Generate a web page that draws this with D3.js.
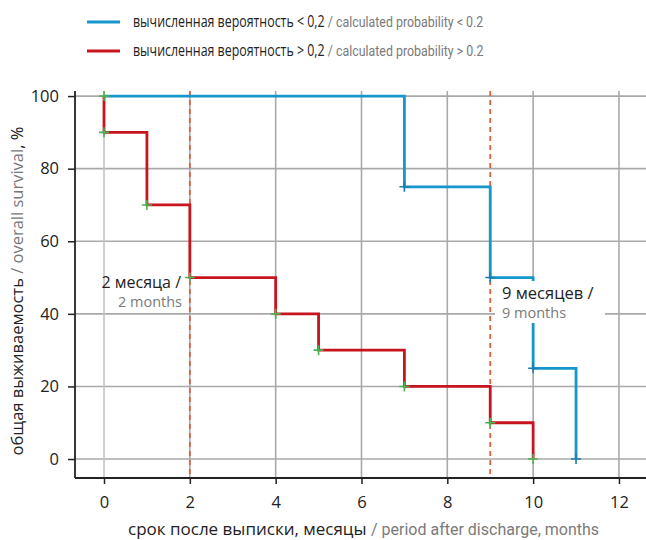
<!DOCTYPE html>
<html>
<head>
<meta charset="utf-8">
<script src="https://cdn.jsdelivr.net/npm/d3@7"></script>
<style>
  body { margin: 0; background: #fff; }
  text { font-family: "Open Sans", "Noto Sans", sans-serif; }
  .en { font-family: "Roboto", sans-serif; fill: #7a7a7a; }
</style>
</head>
<body>
<div id="chart"></div>
<script>
// данные
var xTicks = [0, 2, 4, 6, 8, 10, 12]
var yTicks = [0, 20, 40, 60, 80, 100]
// вероятность < 0,2
var lowTimes = [0, 7, 9, 10, 11]
var lowValues = [100, 75, 50, 25, 0]
var lowCensor = [[7, 75], [9, 50], [10, 25], [11, 0]]
// вероятность > 0,2
var highTimes = [0, 0, 1, 2, 4, 5, 7, 9, 10]
var highValues = [100, 90, 70, 50, 40, 30, 20, 10, 0]
var medians = [2, 9]

var width = 646, height = 540
var colorBlue = '#1596cc', colorRed = '#c8141e', colorGreen = '#4db251', colorDash = '#e0603c', colorGrid = '#a9a9a9'

var svg = d3.select('#chart').append('svg').attr('width', width).attr('height', height)

var x = d3.scaleLinear().domain([-0.676, 12.63]).range([75, 646])
var y = d3.scaleLinear().domain([-5.23, 101.4]).range([478, 91])

// сетка
svg.append('g').selectAll('line').data(yTicks).enter().append('line')
  .attr('x1', 75).attr('x2', width).attr('y1', d => y(d)).attr('y2', d => y(d))
  .attr('stroke', colorGrid).attr('stroke-width', 1.6)
svg.append('g').selectAll('line').data(xTicks).enter().append('line')
  .attr('x1', d => x(d)).attr('x2', d => x(d)).attr('y1', y(101.4)).attr('y2', 478)
  .attr('stroke', d => d === 0 ? '#c4c4c4' : colorGrid).attr('stroke-width', 1.6)

// оси
var yAxis = d3.axisLeft(y).tickValues(yTicks).tickSize(7).tickPadding(9)
var gy = svg.append('g').attr('transform', 'translate(75,0)').call(yAxis)
var xAxis = d3.axisBottom(x).tickValues(xTicks).tickSize(6).tickPadding(12)
var gx = svg.append('g').attr('transform', 'translate(0,478)').call(xAxis)
gy.select('.domain').attr('d', 'M0,' + y(101.4) + 'V478')
gx.select('.domain').attr('d', 'M75,0H' + width)
svg.selectAll('.domain').attr('stroke', '#222').attr('stroke-width', 1.8)
svg.selectAll('.tick line').attr('stroke', '#222').attr('stroke-width', 1.5)
svg.selectAll('.tick text').attr('font-size', 16.5).attr('fill', '#222')
  .style('font-family', '"Open Sans", sans-serif')

// медианы
svg.append('g').selectAll('line').data(medians).enter().append('line')
  .attr('x1', d => x(d)).attr('x2', d => x(d)).attr('y1', y(101.4)).attr('y2', 478)
  .attr('stroke', colorDash).attr('stroke-width', 1.8).attr('stroke-dasharray', '5,4')

var line = d3.line().x(d => x(d[0])).y(d => y(d[1])).curve(d3.curveStepAfter)
svg.append('path').datum(lowTimes.map((t, i) => [t, lowValues[i]]))
  .attr('d', line).attr('fill', 'none').attr('stroke', colorBlue).attr('stroke-width', 2.8)
svg.append('path').datum(highTimes.map((t, i) => [t, highValues[i]]))
  .attr('d', line).attr('fill', 'none').attr('stroke', colorRed).attr('stroke-width', 2.8)

function cross(g, pts, color) {
  g.selectAll('path.c').data(pts).enter().append('path')
    .attr('d', d => 'M' + (x(d[0]) - 5) + ',' + y(d[1]) + 'h10M' + x(d[0]) + ',' + (y(d[1]) - 5) + 'v10')
    .attr('stroke', color).attr('stroke-width', 1.6)
}
cross(svg.append('g'), lowCensor, '#1a7fb0')
cross(svg.append('g'), highTimes.map((t, i) => [t, highValues[i]]), colorGreen)

// подписи медиан
svg.append('text').attr('x', 181).attr('y', 288).attr('text-anchor', 'end').attr('font-size', 16).attr('fill', '#222').text('2 месяца /')
svg.append('text').attr('x', 182).attr('y', 307).attr('text-anchor', 'end').attr('font-size', 14.5).attr('fill', '#7a7a7a').text('2 months')
svg.append('rect').attr('x', 495).attr('y', 281).attr('width', 110).attr('height', 42).attr('fill', '#fff')
svg.append('text').attr('x', 502).attr('y', 299).attr('font-size', 16.5).attr('fill', '#222').text('9 месяцев /')
svg.append('text').attr('x', 502).attr('y', 318).attr('font-size', 14.5).attr('fill', '#7a7a7a').text('9 months')

// легенда (шрифт сжат по горизонтали, как в оригинале)
var legend = [
  { ru: 'вычисленная вероятность < 0,2', en: '/ calculated probability < 0.2', color: colorBlue },
  { ru: 'вычисленная вероятность > 0,2', en: '/ calculated probability > 0.2', color: colorRed }
]
legend.forEach((d, i) => {
  var ly = 22 + i * 29
  svg.append('line').attr('x1', 87).attr('x2', 120).attr('y1', ly).attr('y2', ly)
    .attr('stroke', d.color).attr('stroke-width', 3)
  var t = svg.append('text').attr('transform', 'translate(133,' + (ly + 5) + ') scale(0.8,1)')
    .attr('font-size', 15.5).attr('fill', '#222')
  t.append('tspan').text(d.ru + ' ')
  t.append('tspan').attr('class', 'en').attr('font-size', 15.5).text(d.en)
})

// подписи осей
var xt = svg.append('text').attr('x', 128).attr('y', 535).attr('font-size', 17).attr('fill', '#222')
xt.append('tspan').text('срок после выписки, месяцы ')
xt.append('tspan').attr('class', 'en').attr('font-size', 16).text('/ period after discharge, months')

var yt = svg.append('text').attr('transform', 'translate(23,291) rotate(-90)').attr('text-anchor', 'middle').attr('font-size', 16.5).attr('fill', '#222')
yt.append('tspan').text('общая выживаемость ')
yt.append('tspan').attr('fill', '#777').text('/ overall survival')
yt.append('tspan').text(', %')
</script>
</body>
</html>
